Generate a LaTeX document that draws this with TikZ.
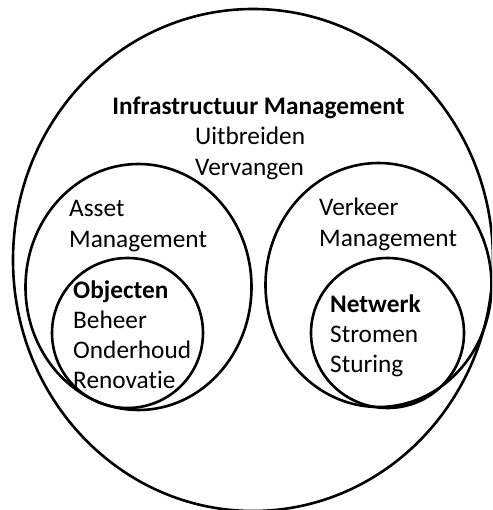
\documentclass[tikz,border=0pt]{standalone}
\usepackage{fontspec}
\setmainfont{Carlito}[Ligatures={NoCommon}]
\usetikzlibrary{shapes.geometric}
\begin{document}
\begin{tikzpicture}[x=1pt,y=-1pt,
  ring/.style={ellipse, draw, line width=2.6pt, inner sep=0pt, outer sep=0pt},
  lbl/.style={anchor=base west, inner sep=0pt, font=\fontsize{25.3}{30}\selectfont},
  clbl/.style={anchor=base, inner sep=0pt, font=\fontsize{25.3}{30}\selectfont}]
\useasboundingbox (0,0) rectangle (492,510);
\begin{scope}
\clip (0,0) rectangle (492,510);
\node[ring, minimum width=480pt, minimum height=502pt] (infra) at (253,260) {};
\node[ring, minimum width=226pt, minimum height=246pt] (asset) at (138.5,287) {};
\node[ring, minimum width=151pt, minimum height=150pt] (obj) at (127.5,333) {};
\node[ring, minimum width=226pt, minimum height=244pt] (verk) at (378.5,285) {};
\node[ring, minimum width=153pt, minimum height=150pt] (netw) at (387.5,333) {};
\end{scope}
\node[clbl, font=\fontsize{25.3}{30}\selectfont\bfseries] (t1) at (258.5,115) {Infrastructuur Management};
\node[lbl] (t2) at (195,145) {Uitbreiden};
\node[lbl] (t3) at (195,176) {Vervangen};
\node[lbl] (a1) at (69,217) {Asset};
\node[lbl] (a2) at (69,247) {Management};
\node[lbl, font=\fontsize{25.3}{30}\selectfont\bfseries] (o1) at (73,298) {Objecten};
\node[lbl] (o2) at (73,328) {Beheer};
\node[lbl] (o3) at (73,358) {Onderhoud};
\node[lbl] (o4) at (73,388) {Renovatie};
\node[lbl] (v1) at (319,215) {Verkeer};
\node[lbl] (v2) at (319,246) {Management};
\node[lbl, font=\fontsize{25.3}{30}\selectfont\bfseries] (n1) at (330,312) {Netwerk};
\node[lbl] (n2) at (330,342) {Stromen};
\node[lbl] (n3) at (330,372) {Sturing};
\end{tikzpicture}
\end{document}
